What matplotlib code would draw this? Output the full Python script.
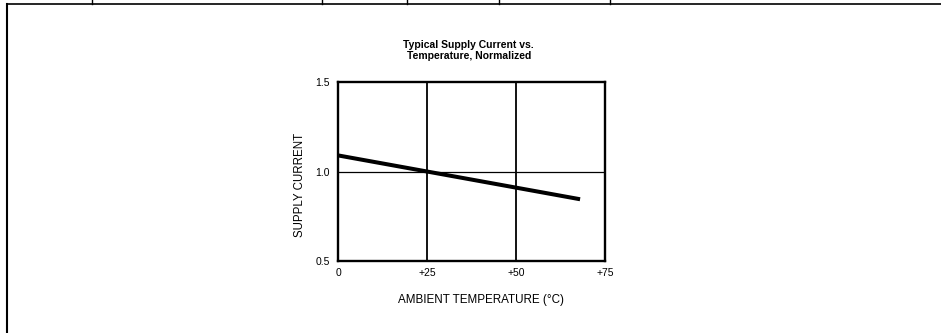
import matplotlib
matplotlib.use("Agg")
import matplotlib.pyplot as plt
from matplotlib.lines import Line2D

plt.rcParams['font.family'] = ['Liberation Sans', 'DejaVu Sans']

# supply current normalized to the value at +25 C
temperatura = [0, 25, 68]
corrente = [1.09, 1.00, 0.845]

xticks = [0, 25, 50, 75]
xtick_labels = ['0', '+25', '+50', '+75']
yticks = [0.5, 1.0, 1.5]
ytick_labels = ['0.5', '1.0', '1.5']

fig = plt.figure(figsize=(9.41, 3.33), dpi=100, facecolor='white')

# page frame: top rule with column ticks and the left rule
fig.add_artist(Line2D([7 / 941, 1], [1 - 4 / 333, 1 - 4 / 333], color='black', lw=1.2))
fig.add_artist(Line2D([7 / 941, 7 / 941], [0, 1 - 4 / 333], color='black', lw=1.5))
for px in [92, 322, 407, 499, 610]:
    fig.add_artist(Line2D([px / 941, px / 941], [1 - 4 / 333, 1], color='black', lw=1.0))

ax = fig.add_axes([338 / 941, 72 / 333, 267 / 941, 179 / 333])
ax.set_xlim(0, 75)
ax.set_ylim(0.5, 1.5)

# grid lines
for x in [25, 50]:
    ax.axvline(x, color='black', lw=1.3)
ax.axhline(1.0, color='black', lw=0.9)

ax.plot(temperatura, corrente, color='black', lw=2.9, solid_capstyle='butt')

for s in ax.spines.values():
    s.set_linewidth(1.7)

ax.set_xticks(xticks)
ax.set_xticklabels(xtick_labels, fontsize=7.5)
ax.set_yticks(yticks)
ax.set_yticklabels(ytick_labels, fontsize=7.5)
ax.tick_params(length=0)
ax.tick_params(axis='x', pad=5)
ax.tick_params(axis='y', pad=6)

ax.text(0.49, 1.12, 'Typical Supply Current vs.\nTemperature, Normalized',
        transform=ax.transAxes, ha='center', va='bottom', fontsize=7.5,
        fontweight='bold', linespacing=1.12)
ax.text(0.536, -0.218, 'AMBIENT TEMPERATURE (°C)', transform=ax.transAxes,
        ha='center', va='center', fontsize=8.4)
ax.text(-0.142, 0.425, 'SUPPLY CURRENT', transform=ax.transAxes, rotation=90,
        ha='center', va='center', fontsize=8.3)

fig.savefig('out.png', dpi=100, facecolor='white')
